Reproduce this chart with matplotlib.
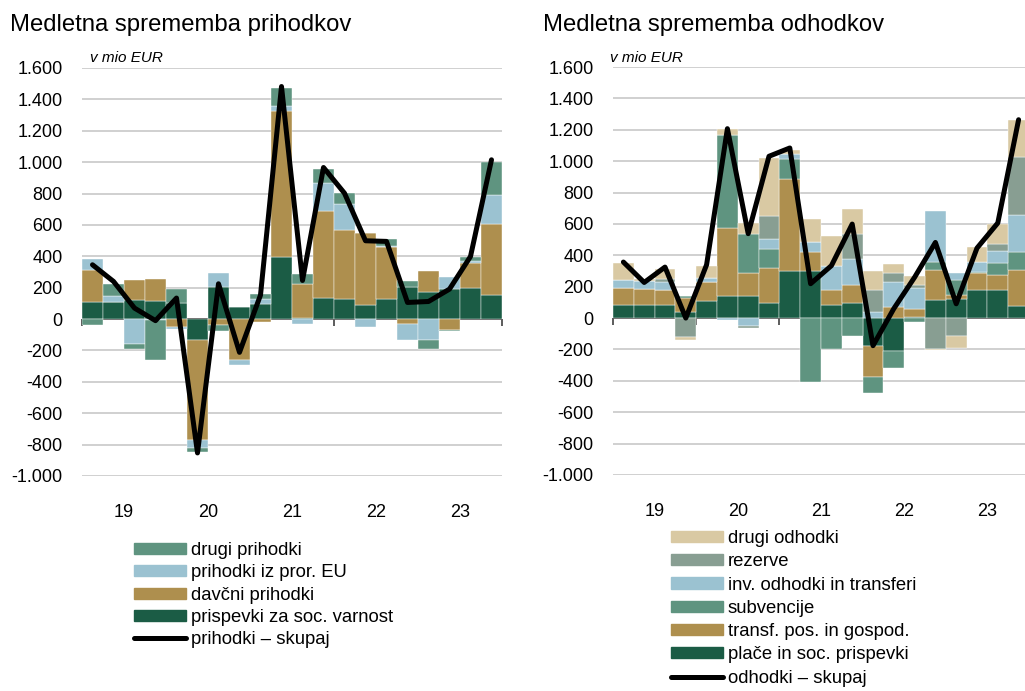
import numpy as np
import matplotlib
matplotlib.use("Agg")
import matplotlib.pyplot as plt
from matplotlib.patches import Patch
from matplotlib.lines import Line2D
from matplotlib.ticker import FuncFormatter

plt.rcParams['font.family'] = ['Liberation Sans', 'DejaVu Sans']

# quarters 2019Q1 .. 2023Q4
years = ["19", "20", "21", "22", "23"]

# revenue side (mio EUR, y/y change)
prispevki = [108, 112, 119, 115, 104, -132, 202, 79, 96, 393, 5, 134, 127, 87, 130, 204, 172, 191, 200, 155]
davcni = [206, 0, 131, 138, -53, -641, -36, -259, -17, 930, 217, 556, 438, 461, 329, -30, 134, -68, 157, 454]
eu = [68, 36, -157, -5, -11, -49, 89, -32, 31, 38, -30, 176, 170, -51, 8, -102, -132, 76, 10, 183]
drugi_pr = [-40, 76, -36, -255, 87, -27, -38, 0, 34, 112, 65, 91, 70, 0, 43, 36, -57, -11, 28, 210]
prihodki_skupaj = [346, 240, 70, -10, 134, -853, 225, -212, 153, 1482, 246, 966, 802, 499, 495, 106, 112, 191, 399, 1015]

# expenditure side
place = [85, 81, 81, 36, 108, 138, 138, 98, 298, 298, 81, 98, -181, -208, 5, 113, 123, 181, 181, 79]
transf = [104, 104, 100, 92, 119, 436, 149, 221, 588, 121, 95, 110, -195, 70, 55, 191, 26, 104, 91, 225]
subvencije = [0, 0, 0, 14, 0, 595, 251, 123, 128, -410, -198, -113, -102, -111, -28, 55, 95, 8, 79, 115]
inv = [53, 49, 46, 0, 30, -15, -53, 62, 29, 63, 158, 170, 38, 162, 133, 321, 43, 62, 78, 235]
rezerve = [0, 0, 22, -121, 0, 0, -13, 144, 0, 0, 0, 158, 143, 53, 15, -198, -117, 0, 43, 372]
drugi_od = [109, 15, 63, -17, 77, 38, 68, 372, 30, 149, 187, 161, 121, 61, 62, -8, -76, 95, 129, 234]
odhodki_skupaj = [357, 227, 325, 0, 340, 1207, 538, 1031, 1084, 219, 334, 599, -176, 60, 260, 482, 91, 446, 606, 1264]

C_DARK = "#1b5c45"
C_TAN = "#ae8f4e"
C_BLUE = "#9bc2d1"
C_TEAL = "#5f9480"
C_GREY = "#889e92"
C_BEIGE = "#d9c9a3"

W, H = 1025, 691
fig = plt.figure(figsize=(W / 100, H / 100), dpi=100)


def stacked(ax, series, colors):
    x = np.arange(len(series[0]))
    pos = np.zeros(len(x))
    neg = np.zeros(len(x))
    for vals, col in zip(series, colors):
        v = np.array(vals, dtype=float)
        bottom = np.where(v >= 0, pos, neg)
        ax.bar(x, v, width=1.0, bottom=bottom, color=col, edgecolor="white",
               linewidth=0.3, zorder=2)
        pos += np.where(v >= 0, v, 0)
        neg += np.where(v < 0, v, 0)
    return x


def style(ax, title, title_x, unit_x):
    ax.set_ylim(-1000, 1600)
    ax.set_xlim(-0.5, 19.5)
    ax.set_yticks(range(-1000, 1601, 200))
    ax.yaxis.set_major_formatter(FuncFormatter(lambda v, p: f"{int(v):,}".replace(",", ".")))
    ax.grid(axis="y", color="#c3c3c3", linewidth=1.1, zorder=0)
    ax.set_axisbelow(True)
    for s in ax.spines.values():
        s.set_visible(False)
    ax.tick_params(axis="y", length=0, pad=14, labelsize=13)
    ax.set_xticks([1.5, 5.5, 9.5, 13.5, 17.5])
    ax.set_xticklabels(years)
    ax.tick_params(axis="x", length=0, pad=20, labelsize=13)
    ax.axhline(0, color="#303030", linewidth=1.1, zorder=1.5)
    ax.vlines([-0.5, 3.5, 7.5, 11.5, 15.5, 19.5], -45, 0, color="#303030",
              linewidth=1.1, zorder=1.5, clip_on=False)
    fig.text(title_x / W, 1 - 14 / H, title, fontsize=17.2, va="top", ha="left")
    fig.text(unit_x / W, 1 - 62 / H, "v mio EUR", fontsize=11, style="italic",
             va="baseline", ha="left")


ax1 = fig.add_axes([82 / W, 1 - 476 / H, 420 / W, 408 / H])
x = stacked(ax1, [prispevki, davcni, eu, drugi_pr], [C_DARK, C_TAN, C_BLUE, C_TEAL])
ax1.plot(x, prihodki_skupaj, color="black", linewidth=3.6, zorder=3,
         solid_joinstyle="round", solid_capstyle="round")
style(ax1, "Medletna sprememba prihodkov", 10, 90)

ax2 = fig.add_axes([613 / W, 1 - 475 / H, 416 / W, 408 / H])
x = stacked(ax2, [place, transf, subvencije, inv, rezerve, drugi_od],
            [C_DARK, C_TAN, C_TEAL, C_BLUE, C_GREY, C_BEIGE])
ax2.plot(x, odhodki_skupaj, color="black", linewidth=3.6, zorder=3,
         solid_joinstyle="round", solid_capstyle="round")
style(ax2, "Medletna sprememba odhodkov", 543, 610)

h1 = [Patch(color=C_TEAL, label="drugi prihodki"),
      Patch(color=C_BLUE, label="prihodki iz pror. EU"),
      Patch(color=C_TAN, label="davčni prihodki"),
      Patch(color=C_DARK, label="prispevki za soc. varnost"),
      Line2D([], [], color="black", linewidth=3.6, solid_capstyle="round", label="prihodki – skupaj")]
fig.legend(handles=h1, loc="upper left", bbox_to_anchor=(134 / W, 1 - 542 / H),
           frameon=False, fontsize=13.3, handlelength=2.8, handleheight=0.55,
           handletextpad=0.27, labelspacing=0.29, borderpad=0, borderaxespad=0)

h2 = [Patch(color=C_BEIGE, label="drugi odhodki"),
      Patch(color=C_GREY, label="rezerve"),
      Patch(color=C_BLUE, label="inv. odhodki in transferi"),
      Patch(color=C_TEAL, label="subvencije"),
      Patch(color=C_TAN, label="transf. pos. in gospod."),
      Patch(color=C_DARK, label="plače in soc. prispevki"),
      Line2D([], [], color="black", linewidth=3.6, solid_capstyle="round", label="odhodki – skupaj")]
fig.legend(handles=h2, loc="upper left", bbox_to_anchor=(671 / W, 1 - 530 / H),
           frameon=False, fontsize=13.3, handlelength=2.8, handleheight=0.55,
           handletextpad=0.27, labelspacing=0.34, borderpad=0, borderaxespad=0)

fig.savefig("out.png", dpi=100)
